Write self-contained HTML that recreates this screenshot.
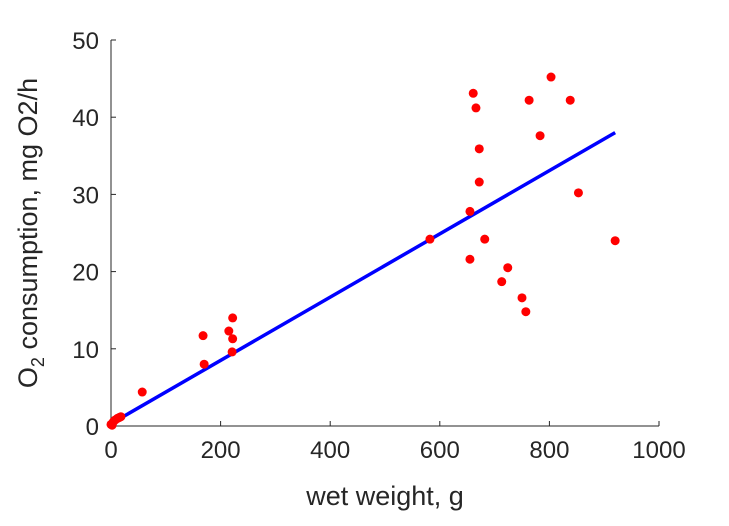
<!DOCTYPE html>
<html><head><meta charset="utf-8"><style>
body{margin:0;background:#fff;}
svg text{font-family:"Liberation Sans",sans-serif;fill:#262626;}
</style></head><body>
<svg id="chart" width="729" height="521" viewBox="0 0 729 521" xmlns="http://www.w3.org/2000/svg">
<rect width="729" height="521" fill="#fff"/>
<g id="axes"></g>
<g id="marks"></g>
<text x="385" y="505" font-size="27" text-anchor="middle">wet weight, g</text>
<text transform="translate(37,233) rotate(-90)" font-size="27" text-anchor="middle">O<tspan font-size="18" dy="7">2</tspan><tspan dy="-7"> consumption, mg O2/h</tspan></text>
</svg>
<script>
const xs=[0,2,3,5,8,12,15,18,57,168,170,215,222,222,221,582,661,666,672,672,655,655,682,713,724,750,757,763,783,803,838,853,920];
const ys=[0.2,0.1,0.4,0.6,0.8,1.0,1.1,1.2,4.4,11.7,8.0,12.3,14.0,11.3,9.6,24.2,43.1,41.2,35.9,31.6,27.8,21.6,24.2,18.7,20.5,16.6,14.8,42.2,37.6,45.2,42.2,30.2,24.0];
const fitX=[0,920];
const fitY=[0.3,38.0];
const xTicks=[0,200,400,600,800,1000];
const yTicks=[0,10,20,30,40,50];
const NS="http://www.w3.org/2000/svg";
const X=v=>111+v*0.548, Y=v=>426-v*7.72;
function mk(t,a,p){const e=document.createElementNS(NS,t);for(const k in a)e.setAttribute(k,a[k]);p.appendChild(e);return e;}
const ax=document.getElementById('axes'), mg=document.getElementById('marks');
const xa=mk('line',{x1:X(0),y1:Y(0),x2:X(1000),y2:Y(0),stroke:'#262626','stroke-width':1},ax);


const ya=mk('line',{x1:X(0),y1:Y(0),x2:X(0),y2:Y(50),stroke:'#262626','stroke-width':1},ax);


xTicks.forEach(t=>{
 mk('line',{x1:X(t),y1:Y(0),x2:X(t),y2:Y(0)-5,stroke:'#262626'},ax);
 const tx=mk('text',{x:X(t),y:Y(0)+32,'font-size':24,'text-anchor':'middle'},ax);tx.textContent=t;
 
 
});
yTicks.forEach(t=>{
 mk('line',{x1:X(0),y1:Y(t),x2:X(0)+5,y2:Y(t),stroke:'#262626'},ax);
 const tx=mk('text',{x:X(0)-12,y:Y(t)+9,'font-size':24,'text-anchor':'end'},ax);tx.textContent=t;
 
 
});
const fl=mk('line',{x1:X(fitX[0]),y1:Y(fitY[0]),x2:X(fitX[1]),y2:Y(fitY[1]),stroke:'#0000ff','stroke-width':3.5},mg);


xs.forEach((x,i)=>{
 const c=mk('circle',{cx:X(x),cy:Y(ys[i]),r:4.5,fill:'#ff0000'},mg);
 
 
});
</script>
</body></html>
